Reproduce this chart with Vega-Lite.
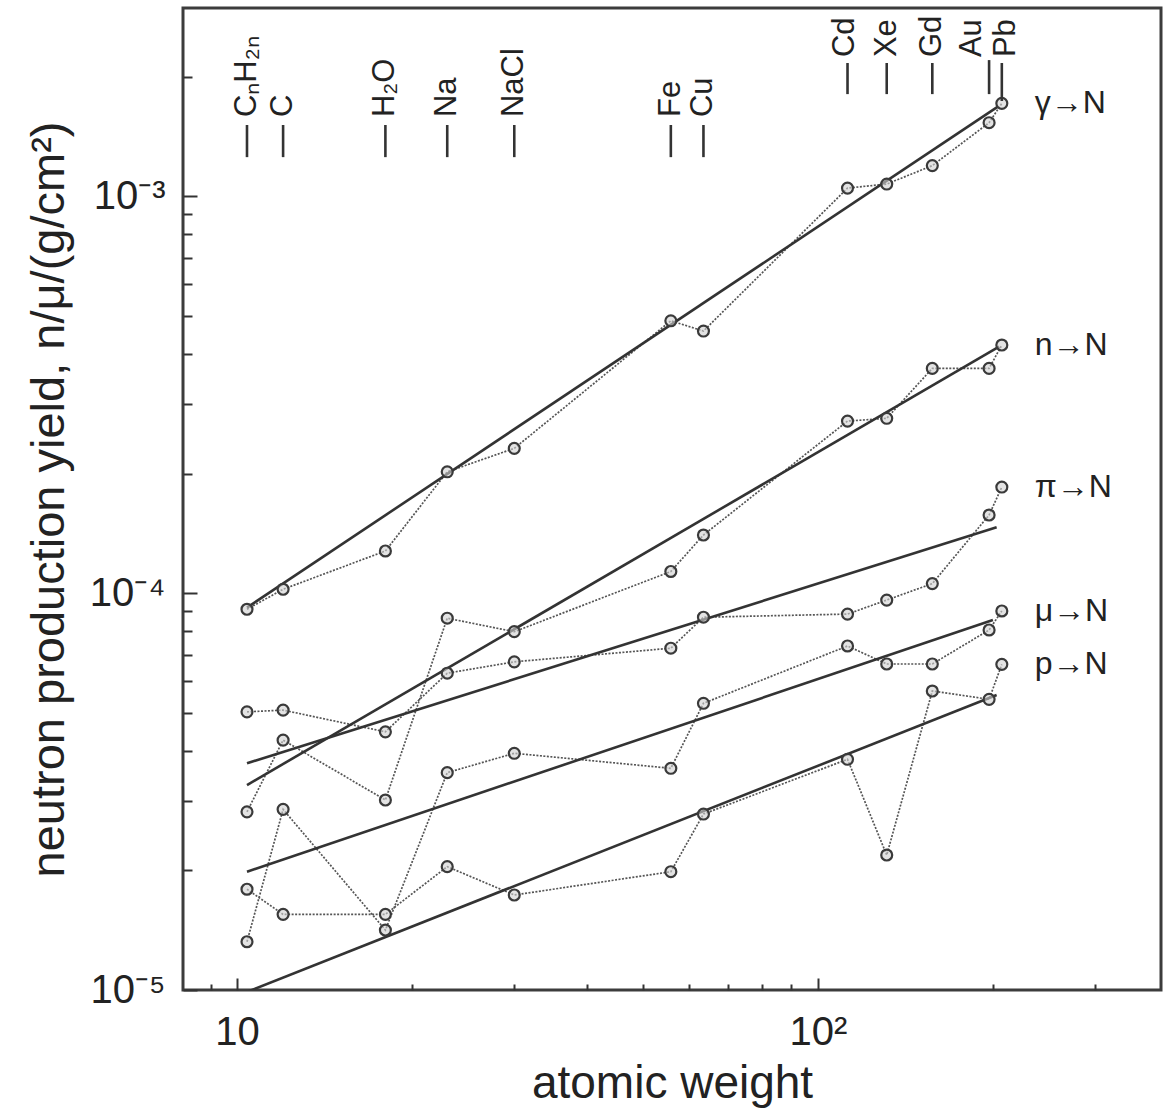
{
  "$schema": "https://vega.github.io/schema/vega-lite/v6.json",
  "width": 978,
  "height": 982,
  "autosize": {"type": "none"},
  "padding": {"left": 183, "top": 8, "right": 9, "bottom": 123},
  "background": "white",
  "config": {
    "view": {"stroke": "#3c3c3c", "strokeWidth": 3},
    "font": "Liberation Sans",
    "axis": {
      "grid": false,
      "domain": false,
      "tickColor": "#333",
      "tickWidth": 2,
      "labelColor": "#222",
      "titleColor": "#222",
      "labelFont": "Liberation Sans",
      "titleFont": "Liberation Sans",
      "titleFontWeight": "normal",
      "labelFlush": false,
      "labelOverlap": false
    }
  },
  "datasets": {
    "points": [
      {"series": "g", "A": 10.4, "v": 9.10e-5},
      {"series": "g", "A": 12, "v": 1.022e-4},
      {"series": "g", "A": 18, "v": 1.276e-4},
      {"series": "g", "A": 23, "v": 2.02e-4},
      {"series": "g", "A": 30, "v": 2.314e-4},
      {"series": "g", "A": 55.8, "v": 4.85e-4},
      {"series": "g", "A": 63.5, "v": 4.57e-4},
      {"series": "g", "A": 112.4, "v": 1.047e-3},
      {"series": "g", "A": 131.3, "v": 1.072e-3},
      {"series": "g", "A": 157.3, "v": 1.193e-3},
      {"series": "g", "A": 197, "v": 1.530e-3},
      {"series": "g", "A": 207.2, "v": 1.712e-3},
      {"series": "n", "A": 10.4, "v": 2.81e-5},
      {"series": "n", "A": 12, "v": 4.26e-5},
      {"series": "n", "A": 18, "v": 3.01e-5},
      {"series": "n", "A": 23, "v": 8.64e-5},
      {"series": "n", "A": 30, "v": 7.99e-5},
      {"series": "n", "A": 55.8, "v": 1.133e-4},
      {"series": "n", "A": 63.5, "v": 1.40e-4},
      {"series": "n", "A": 112.4, "v": 2.711e-4},
      {"series": "n", "A": 131.3, "v": 2.755e-4},
      {"series": "n", "A": 157.3, "v": 3.68e-4},
      {"series": "n", "A": 197, "v": 3.68e-4},
      {"series": "n", "A": 207.2, "v": 4.214e-4},
      {"series": "pi", "A": 10.4, "v": 5.02e-5},
      {"series": "pi", "A": 12, "v": 5.07e-5},
      {"series": "pi", "A": 18, "v": 4.47e-5},
      {"series": "pi", "A": 23, "v": 6.28e-5},
      {"series": "pi", "A": 30, "v": 6.71e-5},
      {"series": "pi", "A": 55.8, "v": 7.26e-5},
      {"series": "pi", "A": 63.5, "v": 8.69e-5},
      {"series": "pi", "A": 112.4, "v": 8.85e-5},
      {"series": "pi", "A": 131.3, "v": 9.60e-5},
      {"series": "pi", "A": 157.3, "v": 1.056e-4},
      {"series": "pi", "A": 197, "v": 1.572e-4},
      {"series": "pi", "A": 207.2, "v": 1.849e-4},
      {"series": "mu", "A": 10.4, "v": 1.323e-5},
      {"series": "mu", "A": 12, "v": 2.851e-5},
      {"series": "mu", "A": 18, "v": 1.416e-5},
      {"series": "mu", "A": 23, "v": 3.528e-5},
      {"series": "mu", "A": 30, "v": 3.947e-5},
      {"series": "mu", "A": 55.8, "v": 3.618e-5},
      {"series": "mu", "A": 63.5, "v": 5.275e-5},
      {"series": "mu", "A": 112.4, "v": 7.355e-5},
      {"series": "mu", "A": 131.3, "v": 6.625e-5},
      {"series": "mu", "A": 157.3, "v": 6.625e-5},
      {"series": "mu", "A": 197, "v": 8.07e-5},
      {"series": "mu", "A": 207.2, "v": 9.01e-5},
      {"series": "p", "A": 10.4, "v": 1.794e-5},
      {"series": "p", "A": 12, "v": 1.551e-5},
      {"series": "p", "A": 18, "v": 1.551e-5},
      {"series": "p", "A": 23, "v": 2.045e-5},
      {"series": "p", "A": 30, "v": 1.735e-5},
      {"series": "p", "A": 55.8, "v": 1.986e-5},
      {"series": "p", "A": 63.5, "v": 2.775e-5},
      {"series": "p", "A": 112.4, "v": 3.812e-5},
      {"series": "p", "A": 131.3, "v": 2.188e-5},
      {"series": "p", "A": 157.3, "v": 5.664e-5},
      {"series": "p", "A": 197, "v": 5.398e-5},
      {"series": "p", "A": 207.2, "v": 6.612e-5}
    ],
    "fits": [
      {"series": "g", "A": 10.4, "v": 9.19e-5},
      {"series": "g", "A": 204, "v": 1.68e-3},
      {"series": "n", "A": 10.4, "v": 3.283e-5},
      {"series": "n", "A": 205, "v": 4.177e-4},
      {"series": "pi", "A": 10.4, "v": 3.724e-5},
      {"series": "pi", "A": 203, "v": 1.464e-4},
      {"series": "mu", "A": 10.4, "v": 1.986e-5},
      {"series": "mu", "A": 200, "v": 8.55e-5},
      {"series": "p", "A": 10.4, "v": 9.89e-6},
      {"series": "p", "A": 203, "v": 5.534e-5}
    ],
    "elements": [
      {"name": "CₙH₂ₙ", "A": 10.4, "lA": 10.4, "v": 1.253e-3, "v2": 1.510e-3, "lv": 1.581e-3},
      {"name": "C", "A": 12, "lA": 12, "v": 1.253e-3, "v2": 1.510e-3, "lv": 1.581e-3},
      {"name": "H₂O", "A": 18, "lA": 18, "v": 1.253e-3, "v2": 1.510e-3, "lv": 1.581e-3},
      {"name": "Na", "A": 23, "lA": 23, "v": 1.253e-3, "v2": 1.510e-3, "lv": 1.581e-3},
      {"name": "NaCl", "A": 30, "lA": 30, "v": 1.253e-3, "v2": 1.510e-3, "lv": 1.581e-3},
      {"name": "Fe", "A": 55.8, "lA": 55.8, "v": 1.253e-3, "v2": 1.510e-3, "lv": 1.581e-3},
      {"name": "Cu", "A": 63.5, "lA": 63.5, "v": 1.253e-3, "v2": 1.510e-3, "lv": 1.581e-3},
      {"name": "Cd", "A": 112.4, "lA": 111.5, "v": 1.806e-3, "v2": 2.163e-3, "lv": 2.239e-3},
      {"name": "Xe", "A": 131.3, "lA": 131.3, "v": 1.806e-3, "v2": 2.163e-3, "lv": 2.239e-3},
      {"name": "Gd", "A": 157.3, "lA": 157.3, "v": 1.806e-3, "v2": 2.163e-3, "lv": 2.239e-3},
      {"name": "Au", "A": 197, "lA": 184, "v": 1.806e-3, "v2": 2.2e-3, "lv": 2.239e-3},
      {"name": "Pb", "A": 207.2, "lA": 211, "v": 1.735e-3, "v2": 2.163e-3, "lv": 2.239e-3}
    ],
    "labels": [
      {"name": "γ→N", "A": 236, "v": 1.712e-3},
      {"name": "n→N", "A": 236, "v": 4.214e-4},
      {"name": "π→N", "A": 236, "v": 1.849e-4},
      {"name": "μ→N", "A": 236, "v": 9.01e-5},
      {"name": "p→N", "A": 236, "v": 6.612e-5}
    ]
  },
  "layer": [
    {
      "data": {"name": "points"},
      "mark": {"type": "line", "stroke": "#555", "strokeWidth": 1.7, "strokeDash": [2, 1.5]},
      "encoding": {
        "x": {
          "field": "A", "type": "quantitative",
          "scale": {"type": "log", "domain": [8.07, 389.4], "nice": false},
          "axis": {
            "title": "atomic weight",
            "values": [9, 10, 20, 30, 40, 50, 60, 70, 80, 90, 100, 200, 300],
            "labelExpr": "datum.value == 10 ? '10' : datum.value == 100 ? '10²' : ''",
            "tickSize": {"condition": {"test": "datum.value == 10 || datum.value == 100", "value": -12}, "value": -6},
            "labelPadding": 34,
            "labelFontSize": 40,
            "titleFontSize": 46,
            "titlePadding": 3
          }
        },
        "y": {
          "field": "v", "type": "quantitative",
          "scale": {"type": "log", "domain": [1e-5, 2.976e-3], "nice": false},
          "axis": {
            "title": "neutron production yield, n/μ/(g/cm²)",
            "values": [1e-5, 2e-5, 3e-5, 4e-5, 5e-5, 6e-5, 7e-5, 8e-5, 9e-5, 1e-4, 2e-4, 3e-4, 4e-4, 5e-4, 6e-4, 7e-4, 8e-4, 9e-4, 1e-3, 2e-3],
            "labelExpr": "datum.value == 0.001 ? '10⁻³' : datum.value == 0.0001 ? '10⁻⁴' : datum.value == 0.00001 ? '10⁻⁵' : ''",
            "tickSize": {"condition": {"test": "datum.value == 0.001 || datum.value == 0.0001 || datum.value == 0.00001", "value": -14}, "value": -9},
            "labelPadding": 32,
            "labelFontSize": 40,
            "titleFontSize": 47,
            "titlePadding": 16
          }
        },
        "detail": {"field": "series"}
      }
    },
    {
      "data": {"name": "fits"},
      "mark": {"type": "line", "stroke": "#333", "strokeWidth": 2.6, "clip": true},
      "encoding": {
        "x": {"field": "A", "type": "quantitative"},
        "y": {"field": "v", "type": "quantitative"},
        "detail": {"field": "series"}
      }
    },
    {
      "data": {"name": "points"},
      "mark": {"type": "point", "shape": "circle", "size": 120, "stroke": "#3a3a3a", "strokeWidth": 2.2, "fill": "#d0d0d0", "fillOpacity": 0.6, "filled": false},
      "encoding": {
        "x": {"field": "A", "type": "quantitative"},
        "y": {"field": "v", "type": "quantitative"}
      }
    },
    {
      "data": {"name": "elements"},
      "mark": {"type": "rule", "stroke": "#333", "strokeWidth": 2.6},
      "encoding": {
        "x": {"field": "A", "type": "quantitative"},
        "y": {"field": "v", "type": "quantitative"},
        "y2": {"field": "v2"}
      }
    },
    {
      "data": {"name": "elements"},
      "mark": {"type": "text", "angle": 270, "align": "left", "baseline": "middle", "fontSize": 31, "font": "Liberation Sans", "fill": "#222"},
      "encoding": {
        "x": {"field": "lA", "type": "quantitative"},
        "y": {"field": "lv", "type": "quantitative"},
        "text": {"field": "name"}
      }
    },
    {
      "data": {"name": "labels"},
      "mark": {"type": "text", "align": "left", "baseline": "middle", "fontSize": 32, "font": "Liberation Sans", "fill": "#222"},
      "encoding": {
        "x": {"field": "A", "type": "quantitative"},
        "y": {"field": "v", "type": "quantitative"},
        "text": {"field": "name"}
      }
    }
  ]
}
